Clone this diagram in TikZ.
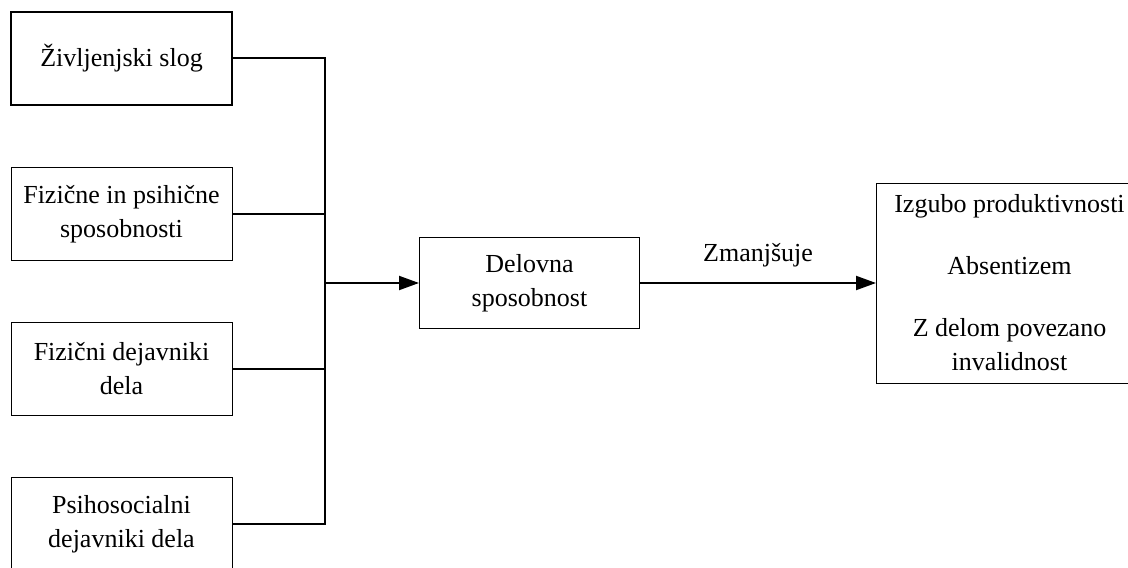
\documentclass[tikz,border=0pt]{standalone}
\usepackage{fontspec}
\setmainfont{Liberation Serif}
\usetikzlibrary{arrows.meta,positioning}

\begin{document}
\begin{tikzpicture}[
  x=0.5pt, y=-0.5pt,
  font=\fontsize{13}{17}\selectfont,
  node distance=30.5pt,
  factor/.style={
    draw, line width=0.5pt, minimum width=110.5pt, minimum height=46.5pt,
    align=center, inner sep=2pt
  },
  link/.style={line width=1pt},
  arr/.style={-{Triangle[length=10pt, width=7pt]}, line width=1pt}
]
\useasboundingbox (0,0) rectangle (1128,567);

% Factors
\node[factor, line width=1pt] (life) at (121.5,58.5) {Življenjski slog};
\node[factor, below=of life] (capacity) {Fizične in psihične\\sposobnosti};
\node[factor, below=of capacity] (physical) {Fizični dejavniki\\dela};
\node[factor, below=of physical] (psycho) {Psihosocialni\\dejavniki dela};

% Work ability
\coordinate (hub) at (325,283);
\node[factor, minimum width=110pt, minimum height=45.5pt, right=47pt of hub] (ability) {Delovna\\sposobnost};

% Consequences
\node[factor, minimum width=133pt, minimum height=100pt, right=118pt of ability] (outcome) {%
Izgubo produktivnosti\\[14pt]
Absentizem\\[14pt]
Z delom povezano\\
invalidnost};

% Collecting lines
\draw[link] (life.east) -| (hub);
\draw[link] (psycho.east) -| (hub);
\draw[link] (capacity.east) -- (capacity.east -| hub);
\draw[link] (physical.east) -- (physical.east -| hub);

% Arrows
\draw[arr] (hub) -- (ability);
\draw[arr] (ability) -- node[above=4pt] {Zmanjšuje} (outcome);

\end{tikzpicture}
\end{document}
